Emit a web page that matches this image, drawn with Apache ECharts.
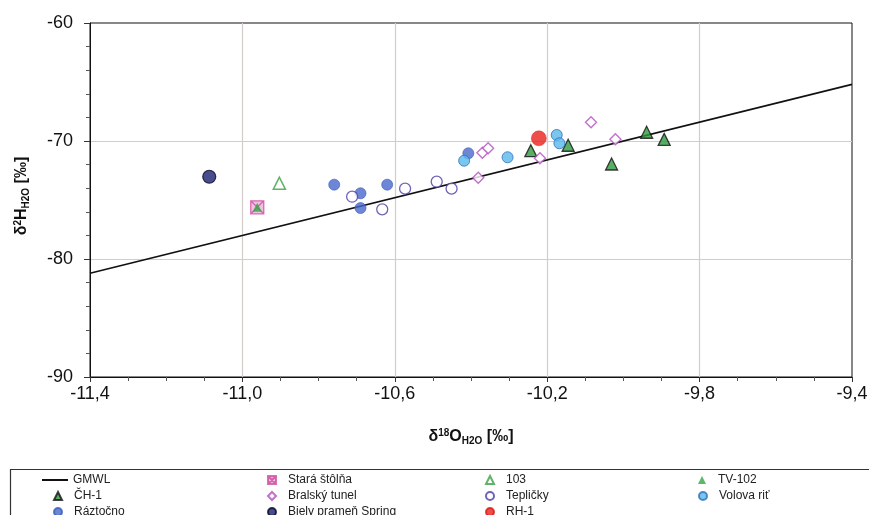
<!DOCTYPE html>
<html>
<head>
<meta charset="utf-8">
<script src="https://cdn.jsdelivr.net/npm/echarts@6/dist/echarts.min.js"></script>
<style>
  html, body { margin: 0; padding: 0; background: #fff; }
  #chart { width: 869px; height: 515px; }
</style>
</head>
<body>
<div id="chart"></div>
<script>
// Global meteoric water line end points (δ18O, δ2H)
const gmwlX = [-11.4, -9.4];
const gmwlY = [-81.2, -65.2];

// Sampling sites: δ18O and δ2H values (‰)
const ch1X = [-10.243, -10.145, -10.031, -9.939, -9.893];
const ch1Y = [-70.82, -70.36, -71.95, -69.26, -69.86];

const raztocnoX = [-10.759, -10.69, -10.69, -10.62, -10.407];
const raztocnoY = [-73.70, -74.43, -75.68, -73.70, -71.04];

const staraX = [-10.961];
const staraY = [-75.62];

const bralskyX = [-10.381, -10.37, -10.355, -10.219, -10.085, -10.021];
const bralskyY = [-73.11, -70.99, -70.62, -71.47, -68.42, -69.86];

const bielyX = [-11.087];
const bielyY = [-73.03];

const s103X = [-10.903];
const s103Y = [-73.58];

const teplickyX = [-10.712, -10.633, -10.573, -10.49, -10.451];
const teplickyY = [-74.72, -75.79, -74.04, -73.45, -74.04];

const rh1X = [-10.222];
const rh1Y = [-69.77];

const tv102X = [-10.961];
const tv102Y = [-75.62];

const volovaX = [-10.418, -10.304, -10.175, -10.168];
const volovaY = [-71.67, -71.38, -69.49, -70.19];

// Axis settings
const xMin = -11.4, xMax = -9.4, xStep = 0.4;
const yMin = -90, yMax = -60, yStep = 10;

const pairs = (xs, ys) => xs.map((x, i) => [x, ys[i]]);
const comma = v => (Math.round(v * 10) / 10).toFixed(1).replace('.', ',');

const squareCross = 'path://M0,0L10,0L10,10L0,10Z M0,0L10,10 M10,0L0,10';

function scatter(name, xs, ys, symbol, size, style, z) {
  return {
    name, type: 'scatter', data: pairs(xs, ys),
    symbol, symbolSize: size, itemStyle: style, z: z || 2,
    emphasis: { disabled: true }
  };
}

const font = 'Liberation Sans, Arial, sans-serif';

// One legend block per entry, laid out in a 4-column table
const rowY = [480, 496, 512];
function legendItem(name, cx, row, size, textX) {
  return {
    show: true, selectedMode: false, padding: 0,
    left: cx - size / 2, top: rowY[row] - 7,
    itemWidth: size, itemHeight: size,
    data: [name],
    textStyle: {
      fontFamily: font, fontSize: 12, color: '#222', lineHeight: 14,
      padding: [0, 0, 0, Math.max(0, textX - (cx + size / 2 + 5))]
    }
  };
}

const gmwlLegend = {
  show: true, selectedMode: false, padding: 0,
  left: 42, top: rowY[0] - 7, itemWidth: 26, itemHeight: 2,
  data: [{ name: 'GMWL', icon: 'rect' }],
  textStyle: { fontFamily: font, fontSize: 12, color: '#222', lineHeight: 14 }
};

const axisNameRich = {
  a: { fontFamily: font, fontSize: 16, fontWeight: 'bold', color: '#111', lineHeight: 20, verticalAlign: 'middle' },
  sup: { fontFamily: font, fontSize: 10, fontWeight: 'bold', color: '#111', padding: [0, 0, 8, 0], verticalAlign: 'middle' },
  sub: { fontFamily: font, fontSize: 10, fontWeight: 'bold', color: '#111', padding: [9, 0, 0, 0], verticalAlign: 'middle' }
};

const chart = echarts.init(document.getElementById('chart'), null, { renderer: 'canvas' });

chart.setOption({
  backgroundColor: '#fff',
  animation: false,
  grid: {
    left: 90, right: 17, top: 23, bottom: 138, outerBoundsMode: 'none',
    show: true, borderColor: '#111', borderWidth: 1, backgroundColor: '#fff'
  },
  xAxis: {
    type: 'value', min: xMin, max: xMax, interval: xStep,
    axisLine: { onZero: false, lineStyle: { color: '#111', width: 1 } },
    axisTick: { length: 5, lineStyle: { color: '#333' } },
    minorTick: { show: true, splitNumber: 4, length: 4, lineStyle: { color: '#555' } },
    splitLine: { show: true, showMinLine: false, showMaxLine: false, lineStyle: { color: '#d3cccb', width: 1.2 } },
    axisLabel: { margin: 8, fontFamily: font, fontSize: 18, color: '#111', formatter: comma },
    name: '{a|δ}{sup|18}{a|O}{sub|H2O}{a| [‰]}',
    nameLocation: 'middle', nameGap: 50,
    nameTextStyle: { rich: axisNameRich }
  },
  yAxis: {
    type: 'value', min: yMin, max: yMax, interval: yStep,
    axisLine: { show: true, onZero: false, lineStyle: { color: '#111', width: 1 } },
    axisTick: { show: true, length: 6, lineStyle: { color: '#333' } },
    minorTick: { show: true, splitNumber: 5, length: 4, lineStyle: { color: '#555' } },
    splitLine: { show: true, showMinLine: false, showMaxLine: false, lineStyle: { color: '#d3cccb', width: 1.2 } },
    axisLabel: { margin: 17, fontFamily: font, fontSize: 18, color: '#111', formatter: v => String(v) },
    name: '{a|δ}{sup|2}{a|H}{sub|H2O}{a| [‰]}',
    nameLocation: 'middle', nameGap: 58, nameRotate: 90,
    nameTextStyle: { rich: axisNameRich, padding: [0, 0, 0, 8] }
  },
  legend: [
    gmwlLegend,
    legendItem('ČH-1', 57, 1, 8, 73),
    legendItem('Ráztočno', 57, 2, 8, 73),
    legendItem('Stará štôlňa', 271, 0, 8, 287),
    legendItem('Bralský tunel', 271, 1, 8, 287),
    legendItem('Biely prameň Spring', 271, 2, 8, 287),
    legendItem('103', 489, 0, 8, 505),
    legendItem('Tepličky', 489, 1, 8, 505),
    legendItem('RH-1', 489, 2, 8, 505),
    legendItem('TV-102', 702, 0, 8, 718),
    legendItem('Volova riť', 702, 1, 8, 718)
  ],
  graphic: [{
    type: 'rect', silent: true, z: -1,
    shape: { x: 10.5, y: 469.5, width: 880, height: 60 },
    style: { fill: '#fff', stroke: '#333', lineWidth: 1.2 }
  }],
  series: [
    {
      name: 'GMWL', type: 'line', data: pairs(gmwlX, gmwlY),
      symbol: 'none', lineStyle: { color: '#111', width: 1.6 }, itemStyle: { color: '#111' },
      z: 1, silent: true
    },
    scatter('ČH-1', ch1X, ch1Y, 'triangle', 12, { color: '#2f9a3f', borderColor: '#111', borderWidth: 1.3 }, 3),
    scatter('Ráztočno', raztocnoX, raztocnoY, 'circle', 11, { color: '#4868cc', borderColor: '#3a5bbb', borderWidth: 0.8 }, 3),
    scatter('Stará štôlňa', staraX, staraY, squareCross, 13, { color: '#eab4da', borderColor: '#cf4a9e', borderWidth: 1.3 }, 2),
    scatter('Bralský tunel', bralskyX, bralskyY, 'diamond', 11, { color: '#fff', borderColor: '#b24fbf', borderWidth: 1.4 }, 3),
    scatter('Biely prameň Spring', bielyX, bielyY, 'circle', 13, { color: '#1a216e', borderColor: '#080828', borderWidth: 1.2 }, 3),
    scatter('103', s103X, s103Y, 'triangle', 12, { color: '#fff', borderColor: '#3a9f45', borderWidth: 1.6 }, 3),
    scatter('Tepličky', teplickyX, teplickyY, 'circle', 11, { color: '#fff', borderColor: '#4b3ca6', borderWidth: 1.3 }, 3),
    scatter('RH-1', rh1X, rh1Y, 'circle', 15, { color: '#e8221c', borderColor: '#d81a14', borderWidth: 0.5 }, 3),
    scatter('TV-102', tv102X, tv102Y, 'triangle', 9, { color: '#33a644' }, 4),
    scatter('Volova riť', volovaX, volovaY, 'circle', 11, { color: '#58b9ea', borderColor: '#2f6fbb', borderWidth: 1 }, 3)
  ]
});
</script>
</body>
</html>
